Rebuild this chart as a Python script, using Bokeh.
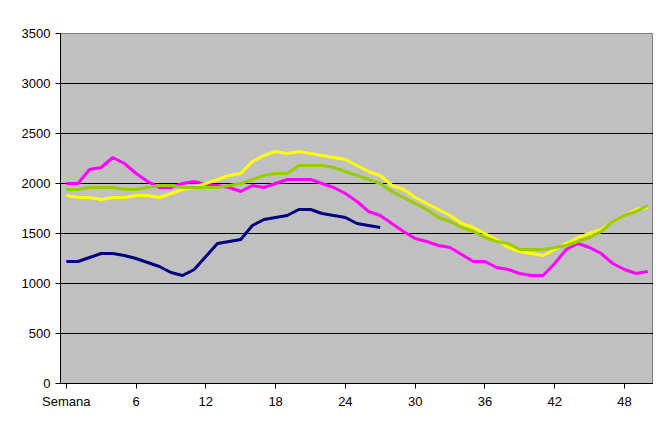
from bokeh.plotting import figure
from bokeh.embed import file_html
from bokeh.resources import INLINE
from bokeh.models import FixedTicker

weeks = list(range(51))
tick_labels = {0: "Semana", 6: "6", 12: "12", 18: "18", 24: "24", 30: "30", 36: "36", 42: "42", 48: "48"}
navy = [1220,1220,1260,1300,1300,1280,1250,1210,1170,1110,1080,1140,1270,1400,1420,1440,1580,1640,1660,1680,1740,1740,1700,1680,1660,1600,1580,1560]
magenta = [2000,2000,2140,2160,2260,2200,2100,2020,1960,1960,2000,2020,1990,1980,1960,1920,1980,1960,2000,2040,2040,2040,2000,1960,1900,1820,1720,1680,1600,1520,1450,1420,1380,1360,1290,1220,1220,1160,1140,1100,1080,1080,1200,1340,1400,1360,1300,1200,1140,1100,1120]
yellow = [1880,1860,1860,1840,1860,1860,1880,1880,1860,1900,1940,1960,2000,2040,2080,2100,2220,2280,2320,2300,2320,2300,2280,2260,2240,2180,2120,2080,1980,1940,1860,1800,1740,1680,1600,1560,1500,1440,1360,1320,1300,1280,1340,1400,1460,1500,1540,1620,1680,1740,1760]
green = [1940,1940,1960,1960,1960,1940,1940,1960,1980,1980,1960,1960,1960,1960,1980,2000,2040,2080,2100,2100,2180,2180,2180,2160,2120,2080,2040,2000,1920,1860,1800,1740,1660,1620,1560,1520,1460,1420,1400,1340,1340,1340,1360,1380,1420,1460,1520,1620,1680,1720,1780]

p = figure(width=653, height=431, output_backend="svg", toolbar_location=None,
           x_range=(-0.5, 50.5), y_range=(0, 3500),
           min_border_left=60, min_border_top=33, min_border_bottom=48, min_border_right=0)
p.background_fill_color = "#C0C0C0"
p.border_fill_color = "white"
p.outline_line_color = "#808080"
p.xgrid.visible = False
p.ygrid.grid_line_color = "black"
p.ygrid.grid_line_width = 1
p.yaxis.ticker = FixedTicker(ticks=list(range(0, 3501, 500)))
p.xaxis.ticker = FixedTicker(ticks=list(tick_labels.keys()))
p.xaxis.major_label_overrides = tick_labels
for ax in (p.xaxis, p.yaxis):
    ax.major_label_text_font = "Liberation Sans"
    ax.major_label_text_font_size = "13px"
    ax.major_label_text_color = "black"
    ax.axis_line_color = "black"
    ax.major_tick_line_color = "black"
    ax.minor_tick_line_color = None
    ax.major_tick_in = 0
    ax.major_tick_out = 5

p.line(weeks[:len(navy)], navy, line_color="#000080", line_width=3)
p.line(weeks, magenta, line_color="#FF00FF", line_width=3)
p.line(weeks, yellow, line_color="#FFFF00", line_width=3)
p.line(weeks, green, line_color="#99CC00", line_width=3)

open("out.html", "w").write(file_html(p, INLINE))
